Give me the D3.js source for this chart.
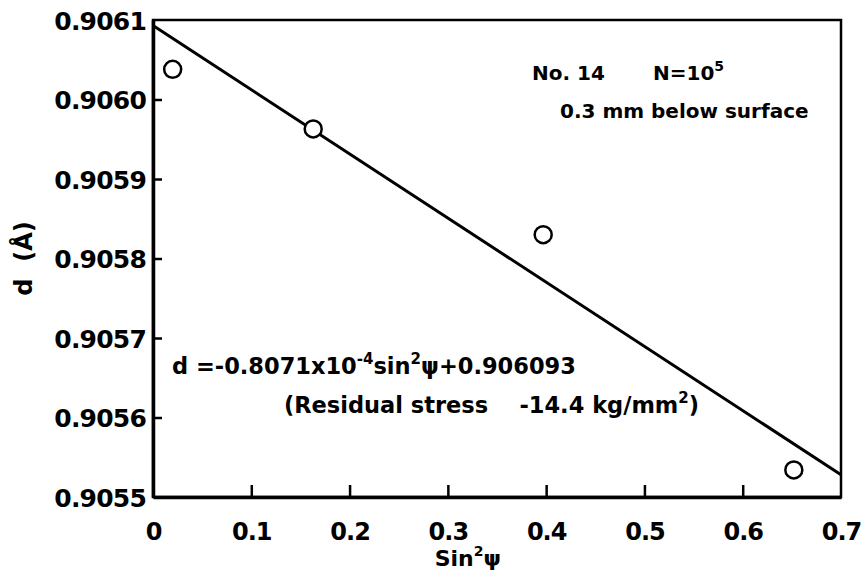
<!DOCTYPE html>
<html>
<head>
<meta charset="utf-8">
<script src="https://cdn.jsdelivr.net/npm/d3@7"></script>
<style>
  body { margin: 0; background: #fff; }
  svg text { font-family: "DejaVu Sans", sans-serif; fill: #000; }
</style>
</head>
<body>
<svg id="chart"></svg>
<script>
// measured points
const sin2psi = [0.02, 0.163, 0.397, 0.652];
const dSpacing = [0.906038, 0.905963, 0.905830, 0.905534];

// least squares line as drawn
const fitSlope = -0.8071e-3;
const fitIntercept = 0.906093;

const xTicks = [0, 0.1, 0.2, 0.3, 0.4, 0.5, 0.6, 0.7];
const yTicks = [0.9055, 0.9056, 0.9057, 0.9058, 0.9059, 0.9060, 0.9061];

const width = 864;
const height = 577;
const margin = {top: 20, right: 23, bottom: 80, left: 153};

const svg = d3.select("#chart")
  .attr("width", width)
  .attr("height", height)
  .attr("viewBox", [0, 0, width, height]);

const xScale = d3.scaleLinear([0, 0.7], [margin.left, width - margin.right]);
const yScale = d3.scaleLinear([0.9055, 0.9061], [height - margin.bottom, margin.top]);

// frame
svg.append("rect")
  .attr("x", xScale(0))
  .attr("y", yScale(0.9061))
  .attr("width", xScale(0.7) - xScale(0))
  .attr("height", yScale(0.9055) - yScale(0.9061))
  .attr("fill", "none")
  .attr("stroke", "#000")
  .attr("stroke-width", 2.5);

// x axis, ticks pointing inward
const xAxis = svg.append("g")
  .attr("transform", `translate(0,${yScale(0.9055)})`)
  .call(d3.axisBottom(xScale)
    .tickValues(xTicks)
    .tickSizeInner(-12)
    .tickSizeOuter(0)
    .tickPadding(26)
    .tickFormat(d => d === 0 ? "0" : d3.format(".1f")(d)));
xAxis.select(".domain").attr("stroke-width", 3.5);
xAxis.selectAll(".tick line")
  .attr("stroke-width", 2.5)
  .attr("display", d => (d === 0 || d === 0.7) ? "none" : null);
xAxis.selectAll(".tick text")
  .attr("font-size", 24)
  .attr("font-weight", "bold")
  .attr("letter-spacing", -1);

// y axis
const yAxis = svg.append("g")
  .attr("transform", `translate(${xScale(0)},0)`)
  .call(d3.axisLeft(yScale)
    .tickValues(yTicks)
    .tickSizeInner(-9)
    .tickSizeOuter(0)
    .tickPadding(7)
    .tickFormat(d3.format(".4f")));
yAxis.select(".domain").attr("stroke-width", 3.5);
yAxis.selectAll(".tick line")
  .attr("stroke-width", 2.5)
  .attr("display", d => (d === 0.9055 || d === 0.9061) ? "none" : null);
yAxis.selectAll(".tick text")
  .attr("font-size", 25)
  .attr("font-weight", "bold")
  .attr("letter-spacing", -0.8)
  .attr("dy", "0.36em");

// axis titles
const xTitle = svg.append("text")
  .attr("x", xScale(0.3) + 20)
  .attr("y", 566)
  .attr("text-anchor", "middle")
  .attr("font-size", 22)
  .attr("font-weight", "bold");
xTitle.append("tspan").text("Sin");
xTitle.append("tspan").attr("font-size", 14).attr("dy", -10).text("2");
xTitle.append("tspan").attr("dy", 10).text("ψ");

svg.append("text")
  .attr("transform", `translate(32,${yScale(0.90580)}) rotate(-90)`)
  .attr("text-anchor", "middle")
  .attr("font-size", 24)
  .attr("font-weight", "bold")
  .attr("xml:space", "preserve")
  .text("d  (Å)");

// fit line
const fitLine = d3.line()
  .x(d => xScale(d))
  .y(d => yScale(fitSlope * d + fitIntercept));
svg.append("path")
  .datum([0, 0.7])
  .attr("fill", "none")
  .attr("stroke", "#000")
  .attr("stroke-width", 3)
  .attr("d", fitLine);

// points
svg.selectAll("circle.pt")
  .data(sin2psi)
  .join("circle")
  .attr("class", "pt")
  .attr("cx", d => xScale(d))
  .attr("cy", (d, i) => yScale(dSpacing[i]))
  .attr("r", 8.5)
  .attr("fill", "#fff")
  .attr("stroke", "#000")
  .attr("stroke-width", 2.5);

// annotations
svg.append("text")
  .attr("x", 532).attr("y", 80)
  .attr("font-size", 20).attr("font-weight", "bold")
  .text("No. 14");
const nText = svg.append("text")
  .attr("x", 653).attr("y", 80)
  .attr("font-size", 20).attr("font-weight", "bold");
nText.append("tspan").text("N=10");
nText.append("tspan").attr("font-size", 14).attr("dy", -9).text("5");

svg.append("text")
  .attr("x", 560).attr("y", 118)
  .attr("font-size", 20)
  .attr("font-weight", "bold")
  .text("0.3 mm below surface");

const eq = svg.append("text")
  .attr("x", 172).attr("y", 374)
  .attr("font-size", 22.5)
  .attr("font-weight", "bold");
eq.append("tspan").text("d =-0.8071x10");
eq.append("tspan").attr("font-size", 15).attr("dy", -10).text("-4");
eq.append("tspan").attr("dy", 10).text("sin");
eq.append("tspan").attr("font-size", 15).attr("dy", -10).text("2");
eq.append("tspan").attr("dy", 10).text("ψ+0.906093");

const rs = svg.append("text")
  .attr("x", 284).attr("y", 413)
  .attr("font-size", 22.5)
  .attr("font-weight", "bold")
  .attr("xml:space", "preserve");
rs.append("tspan").text("(Residual stress    -14.4 kg/mm");
rs.append("tspan").attr("font-size", 15).attr("dy", -10).text("2");
rs.append("tspan").attr("dy", 10).text(")");
</script>
</body>
</html>
